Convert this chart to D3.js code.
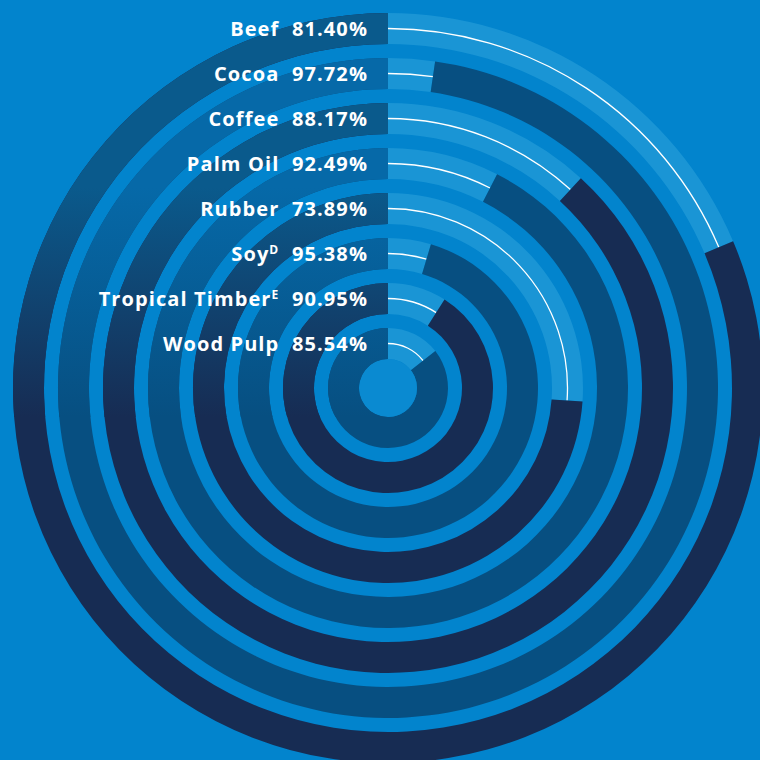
<!DOCTYPE html>
<html>
<head>
<meta charset="utf-8">
<script src="https://cdn.jsdelivr.net/npm/d3@7"></script>
<style>
  html, body { margin: 0; padding: 0; background: #0284cd; }
  svg { display: block; }
</style>
</head>
<body>
<svg id="chart" width="760" height="760"></svg>
<script>
// ---- data ----
const categories = ["Beef", "Cocoa", "Coffee", "Palm Oil", "Rubber", "Soy", "Tropical Timber", "Wood Pulp"];
const values = [81.40, 97.72, 88.17, 92.49, 73.89, 95.38, 90.95, 85.54];
const superscripts = ["", "", "", "", "", "D", "E", ""];

// ---- styling ----
const W = 760, H = 760, cx = 388, cy = 388;
const bg = "#0284cd";
const lightCol = "#1a95d5";
const centerCol = "#0a8ad1";
const baseCols = ["#172c53", "#074f81"];      // alternating ring colours
const topCols = ["#0a5a8c", "#0669a8"];       // upper-left gradient top colours

const svg = d3.select("#chart");
svg.append("rect").attr("width", W).attr("height", H).attr("fill", bg);

const defs = svg.append("defs");
baseCols.forEach((c, i) => {
  const g = defs.append("linearGradient")
    .attr("id", "grad" + i)
    .attr("gradientUnits", "userSpaceOnUse")
    .attr("x1", 0).attr("y1", -cy).attr("x2", 0).attr("y2", 417 - cy);
  g.append("stop").attr("offset", "0%").attr("stop-color", topCols[i]);
  g.append("stop").attr("offset", "45%").attr("stop-color", topCols[i]);
  g.append("stop").attr("offset", "100%").attr("stop-color", c);
});
defs.append("clipPath").attr("id", "ulclip")
  .append("rect").attr("x", 0).attr("y", 0).attr("width", cx).attr("height", 417);

// scales
const rScale = d3.scaleBand().domain(categories).range([375, 29]).paddingInner(14 / 45).paddingOuter(0);
const aScale = d3.scaleLinear().domain([0, 100]).range([0, 2 * Math.PI]);

const data = categories.map((c, i) => ({ name: c, value: values[i], sup: superscripts[i], i }));

const arc = d3.arc();
const g = svg.append("g").attr("transform", `translate(${cx},${cy})`);

// light (remaining) segments
g.selectAll("path.light").data(data).join("path")
  .attr("class", "light")
  .attr("fill", lightCol)
  .attr("d", d => arc({
    innerRadius: rScale(d.name),
    outerRadius: rScale(d.name) + rScale.bandwidth(),
    startAngle: 0,
    endAngle: aScale(100 - d.value)
  }));

// white guide lines inside light segments
g.selectAll("path.guide").data(data).join("path")
  .attr("class", "guide")
  .attr("fill", "none")
  .attr("stroke", "#ffffff")
  .attr("stroke-width", 1.3)
  .attr("d", d => {
    const r = rScale(d.name) + rScale.bandwidth() / 2;
    const p = d3.path();
    p.arc(0, 0, r, -Math.PI / 2, -Math.PI / 2 + aScale(100 - d.value));
    return p.toString();
  });

// dark (value) segments
const darkArc = d => arc({
  innerRadius: rScale(d.name),
  outerRadius: rScale(d.name) + rScale.bandwidth(),
  startAngle: aScale(100 - d.value),
  endAngle: aScale(100)
});
g.selectAll("path.dark").data(data).join("path")
  .attr("class", "dark")
  .attr("fill", d => baseCols[d.i % 2])
  .attr("d", darkArc);

// gradient overlay in upper-left region
const ov = svg.append("g").attr("clip-path", "url(#ulclip)")
  .append("g").attr("transform", `translate(${cx},${cy})`);
ov.selectAll("path").data(data).join("path")
  .attr("fill", d => `url(#grad${d.i % 2})`)
  .attr("d", darkArc);

// center circle
g.append("circle").attr("r", rScale(categories[categories.length - 1])).attr("fill", centerCol);

// labels
const fmt = d3.format(".2f");
const labels = svg.append("g")
  .attr("font-family", "'Open Sans', 'DejaVu Sans', sans-serif")
  .attr("font-weight", 700)
  .attr("font-size", 20)
  .attr("letter-spacing", 1.1)
  .attr("fill", "#ffffff")
  .attr("text-anchor", "end");
const t = labels.selectAll("text").data(data).join("text")
  .attr("x", cx - 20)
  .attr("y", d => cy - (rScale(d.name) + rScale.bandwidth() / 2))
  .attr("dy", 7);
t.append("tspan").text(d => d.name);
t.filter(d => d.sup).append("tspan")
  .attr("font-size", 12)
  .attr("dy", -7)
  .text(d => d.sup);
t.append("tspan")
  .attr("dy", d => d.sup ? 7 : null)
  .attr("font-size", 20)
  .text(d => "\u00a0\u00a0" + fmt(d.value) + "%");
</script>
</body>
</html>
